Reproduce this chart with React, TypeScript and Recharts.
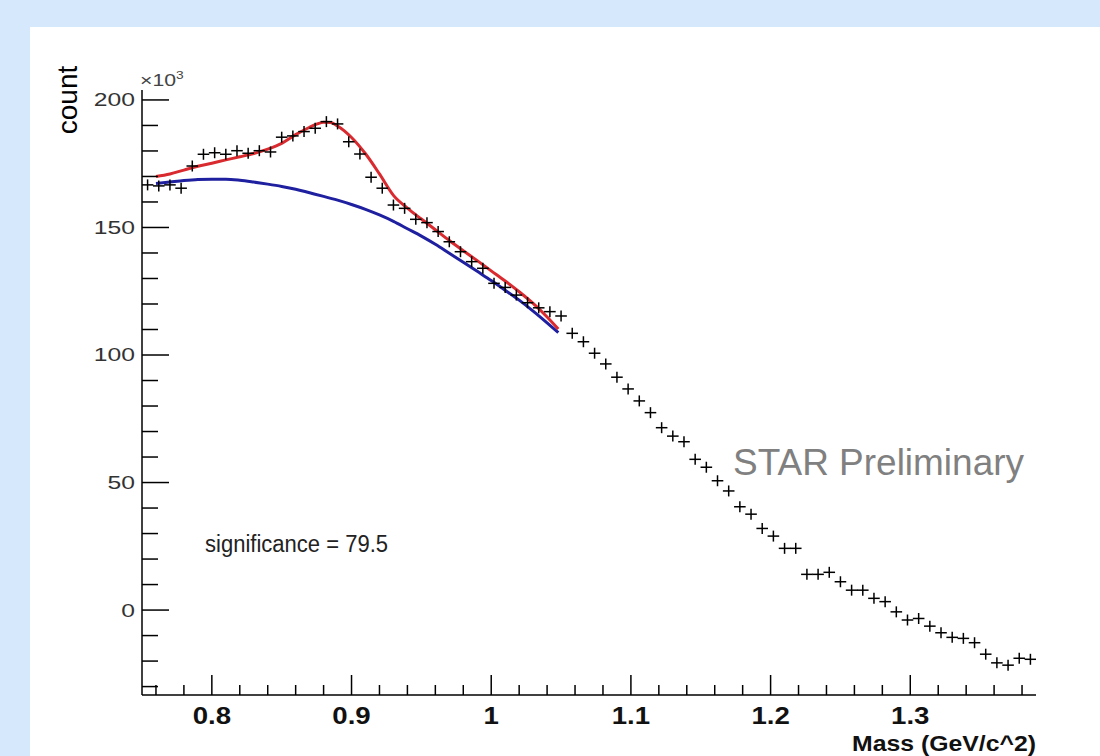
import React from 'react';
import { ComposedChart, XAxis, YAxis, Scatter, Line } from 'recharts';

// Invariant mass bin centres (GeV/c^2)
const massBins = [
  0.754, 0.762, 0.770, 0.778, 0.786, 0.794, 0.802, 0.810, 0.818, 0.826,
  0.834, 0.842, 0.850, 0.858, 0.866, 0.874, 0.882, 0.890, 0.898, 0.906,
  0.914, 0.922, 0.930, 0.938, 0.946, 0.954, 0.962, 0.970, 0.978, 0.986,
  0.994, 1.002, 1.010, 1.018, 1.026, 1.034, 1.042, 1.050, 1.058, 1.066,
  1.074, 1.082, 1.090, 1.098, 1.106, 1.114, 1.122, 1.130, 1.138, 1.146,
  1.154, 1.162, 1.170, 1.178, 1.186, 1.194, 1.202, 1.210, 1.218, 1.226,
  1.234, 1.242, 1.250, 1.258, 1.266, 1.274, 1.282, 1.290, 1.298, 1.306,
  1.314, 1.322, 1.330, 1.338, 1.346, 1.354, 1.362, 1.370, 1.378, 1.386,
];

// Counts (x10^3)
const counts = [
  166.7, 166.3, 166.7, 165.4, 174.1, 178.7, 179.3, 178.7, 180.1, 179.1,
  180.1, 179.6, 185.4, 185.9, 187.6, 188.9, 191.5, 190.6, 183.6, 178.8,
  169.7, 165.4, 158.8, 157.5, 153.2, 151.9, 148.4, 144.4, 140.5, 136.6,
  134.0, 128.1, 126.5, 123.5, 120.5, 118.5, 117.0, 115.3, 108.5, 105.2,
  100.7, 96.5, 91.3, 86.7, 82.0, 77.4, 71.5, 68.2, 66.0, 59.1,
  56.0, 50.7, 46.7, 40.5, 37.6, 32.0, 29.0, 24.2, 24.2, 14.0,
  14.0, 14.8, 11.1, 7.8, 7.8, 4.6, 3.3, -0.7, -3.9, -3.3,
  -6.3, -8.9, -10.7, -11.1, -12.8, -17.3, -20.7, -21.6, -18.9, -19.3,
];

// Signal + background fit (red)
const fitMassRed = [
  0.76, 0.77, 0.78, 0.79, 0.80, 0.81, 0.82, 0.83, 0.84, 0.85,
  0.86, 0.87, 0.875, 0.88, 0.885, 0.89, 0.90, 0.91, 0.92, 0.93,
  0.94, 0.95, 0.96, 0.97, 0.98, 0.99, 1.00, 1.01, 1.02, 1.03,
  1.04, 1.048,
];
const fitRed = [
  170.0, 171.0, 172.5, 174.0, 175.2, 176.5, 177.7, 179.0, 180.7, 183.0,
  186.4, 189.3, 190.5, 191.3, 191.2, 189.8, 185.3, 178.9, 171.0, 162.6,
  157.6, 153.3, 149.1, 144.9, 140.9, 137.0, 133.0, 129.0, 124.8, 120.2,
  114.9, 110.2,
];

// Background fit (blue)
const fitMassBlue = [
  0.76, 0.77, 0.78, 0.79, 0.80, 0.81, 0.82, 0.83, 0.84, 0.85,
  0.86, 0.87, 0.88, 0.89, 0.90, 0.91, 0.92, 0.93, 0.94, 0.95,
  0.96, 0.97, 0.98, 0.99, 1.00, 1.01, 1.02, 1.03, 1.04, 1.048,
];
const fitBlue = [
  167.2, 167.8, 168.4, 168.8, 168.9, 168.9, 168.5, 167.8, 167.0, 166.1,
  165.0, 163.6, 162.2, 160.7, 159.0, 157.1, 154.9, 152.4, 149.5, 146.6,
  143.4, 139.9, 136.4, 132.8, 129.2, 125.4, 121.5, 117.2, 112.6, 108.8,
];

const yTicks = [-30, -20, -10, 0, 10, 20, 30, 40, 50, 60, 70, 80, 90, 100, 110, 120, 130, 140, 150, 160, 170, 180, 190, 200];
const yMajorTicks = [0, 50, 100, 150, 200];
const xTicks = [
  0.76, 0.78, 0.8, 0.82, 0.84, 0.86, 0.88, 0.9, 0.92, 0.94, 0.96, 0.98, 1, 1.02, 1.04, 1.06,
  1.08, 1.1, 1.12, 1.14, 1.16, 1.18, 1.2, 1.22, 1.24, 1.26, 1.28, 1.3, 1.32, 1.34, 1.36, 1.38,
];
const xMajorTicks = [0.8, 0.9, 1, 1.1, 1.2, 1.3];
const xMajorLabels = ['0.8', '0.9', '1', '1.1', '1.2', '1.3'];

const X_DOMAIN: [number, number] = [0.75, 1.39];
const Y_DOMAIN: [number, number] = [-33.3, 203.9];

const points = massBins.map((m, i) => ({ m, c: counts[i] }));
const redData = fitMassRed.map((m, i) => ({ m, v: fitRed[i] }));
const blueData = fitMassBlue.map((m, i) => ({ m, v: fitBlue[i] }));

const SANS = '"Liberation Sans", Arial, Helvetica, sans-serif';

const YTick = (props: any) => {
  const { x, y, payload } = props;
  const v = payload.value;
  const major = yMajorTicks.includes(v);
  return (
    <g>
      <line x1={x} x2={x + (major ? 27 : 16)} y1={y} y2={y} stroke="#000" strokeWidth={1.5} />
      {major && (
        <text
          transform={`translate(${x - 7},${y}) scale(1.3,1)`}
          textAnchor="end"
          dominantBaseline="central"
          fontFamily={SANS}
          fontSize={19}
          fill="#333"
        >
          {String(v)}
        </text>
      )}
    </g>
  );
};

const XTick = (props: any) => {
  const { x, y, payload } = props;
  const v = payload.value;
  const idx = xMajorTicks.findIndex((t) => Math.abs(t - v) < 1e-6);
  const major = idx >= 0;
  return (
    <g>
      <line x1={x} x2={x} y1={y} y2={y - (major ? 20 : 10)} stroke="#000" strokeWidth={1.5} />
      {major && (
        <text
          transform={`translate(${x},${y + 21}) scale(1.2,1)`}
          textAnchor="middle"
          dominantBaseline="central"
          fontFamily={SANS}
          fontWeight="bold"
          fontSize={23}
          fill="#111"
        >
          {xMajorLabels[idx]}
        </text>
      )}
    </g>
  );
};

const CrossShape = (props: any) => {
  const { cx, cy } = props;
  if (cx == null || cy == null) return <g />;
  return (
    <g>
      <line x1={cx - 5.8} x2={cx + 5.8} y1={cy} y2={cy} stroke="#000" strokeWidth={1.5} />
      <line x1={cx} x2={cx} y1={cy - 5.5} y2={cy + 5.5} stroke="#000" strokeWidth={1.5} />
    </g>
  );
};

export default function App() {
  return (
    <div style={{ position: 'absolute', left: 0, top: 0, width: 1100, height: 756, background: '#d5e8fc', overflow: 'hidden' }}>
      <div style={{ position: 'absolute', left: 30, top: 27, width: 1070, height: 729, background: '#ffffff' }} />
      <div style={{ position: 'absolute', left: 0, top: 0 }}>
        <ComposedChart width={1100} height={756} margin={{ top: 90, right: 64, bottom: 0, left: 0 }}>
          <XAxis
            dataKey="m"
            type="number"
            domain={X_DOMAIN}
            ticks={xTicks}
            interval={0}
            tickSize={0}
            tickMargin={0}
            height={61}
            tick={XTick}
            tickLine={false}
            axisLine={{ stroke: '#000', strokeWidth: 1.5 }}
            allowDataOverflow
          />
          <XAxis
            xAxisId="top"
            orientation="top"
            type="number"
            domain={X_DOMAIN}
            height={0}
            tick={false}
            tickLine={false}
            axisLine={{ stroke: '#000', strokeWidth: 1.5 }}
          />
          <YAxis
            type="number"
            domain={Y_DOMAIN}
            ticks={yTicks}
            interval={0}
            tickSize={0}
            tickMargin={0}
            width={142}
            tick={YTick}
            tickLine={false}
            axisLine={{ stroke: '#000', strokeWidth: 1.5 }}
            allowDataOverflow
          />
          <YAxis
            yAxisId="right"
            orientation="right"
            type="number"
            domain={Y_DOMAIN}
            width={0}
            tick={false}
            tickLine={false}
            axisLine={{ stroke: '#000', strokeWidth: 1.5 }}
          />
          <Line data={blueData} dataKey="v" type="monotone" stroke="#1f20a0" strokeWidth={3} dot={false} isAnimationActive={false} />
          <Line data={redData} dataKey="v" type="monotone" stroke="#d92b2f" strokeWidth={3} dot={false} isAnimationActive={false} />
          <Scatter data={points} dataKey="c" shape={CrossShape} isAnimationActive={false} />
        </ComposedChart>
      </div>
      <svg width={1100} height={756} style={{ position: 'absolute', left: 0, top: 0, pointerEvents: 'none' }}>
        <text
          transform="translate(67,100) rotate(-90)"
          textAnchor="middle"
          dominantBaseline="central"
          fontFamily={SANS}
          fontSize={28}
          fill="#000"
        >
          count
        </text>
        <text transform="translate(140,86) scale(1.25,1)" fontFamily={SANS} fontSize={17} fill="#444">
          ×10<tspan fontSize={11} dy={-7}>3</tspan>
        </text>
        <text x={205} y={552} fontFamily={SANS} fontSize={23} fill="#222" textLength={183} lengthAdjust="spacingAndGlyphs">
          significance = 79.5
        </text>
        <text x={733} y={475} fontFamily={SANS} fontSize={36} fill="#808080" textLength={291} lengthAdjust="spacingAndGlyphs">
          STAR Preliminary
        </text>
        <text x={1036} y={751} textAnchor="end" fontFamily={SANS} fontWeight="bold" fontSize={22} fill="#111" textLength={184} lengthAdjust="spacingAndGlyphs">
          Mass (GeV/c^2)
        </text>
      </svg>
    </div>
  );
}
